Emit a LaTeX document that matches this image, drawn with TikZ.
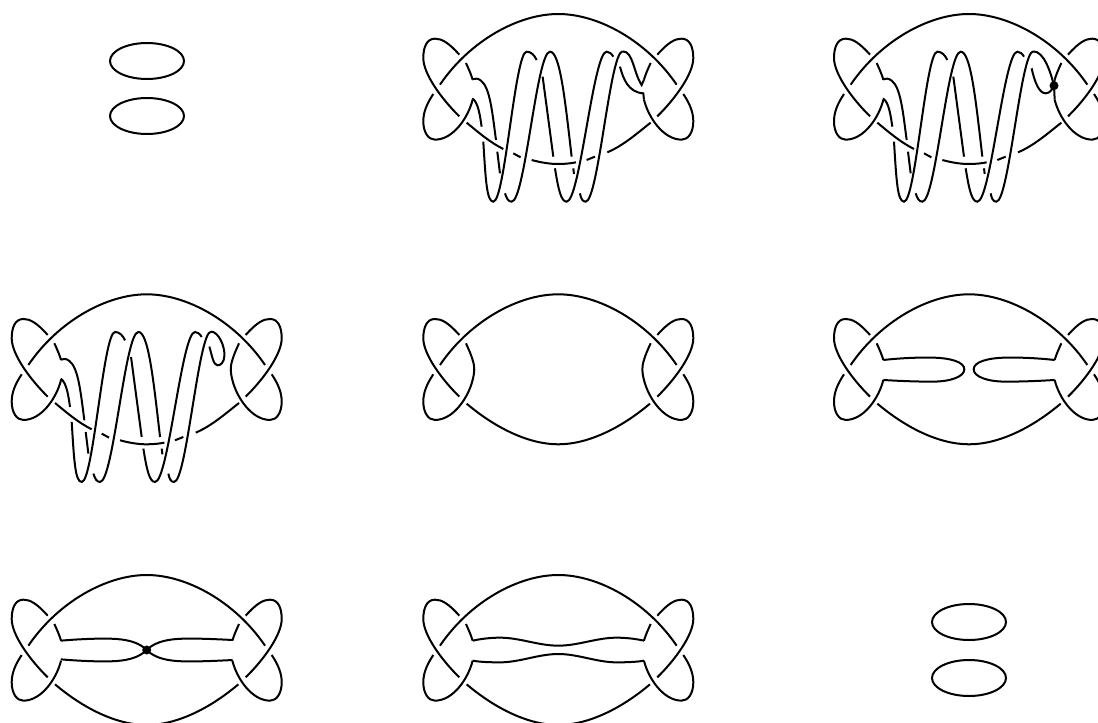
\documentclass[tikz,border=0pt]{standalone}
\usepackage{tikz}

\tikzset{
    every pic/.style={transform shape},
    strand/.style={line width=2pt, black},
    crossdot/.style={circle, fill=black, inner sep=0pt, minimum size=9pt},
    u/.style={x=0.33333pt, y=-0.33333pt},
    % half of the frame, left side
    halfframe/.pic={
      \draw[strand] (-297,-103) .. controls (-330,-140) and (-350,-151) .. (-370,-151)
        .. controls (-395,-151) and (-405,-125) .. (-405,-93)
        .. controls (-405,-45) and (-350,30) .. (-297,82);
      \draw[strand] (-375,15) .. controls (-395,45) and (-405,70) .. (-405,97)
        .. controls (-405,130) and (-390,152) .. (-370,152)
        .. controls (-315,152) and (-270,85) .. (-257,32);
      \draw[strand] (-277,-78) .. controls (-268,-58) and (-262,-45) .. (-257,-28);
    },
    % both sides and the arc above
    lobes/.pic={
      \pic {halfframe};
      \pic[xscale=-1] {halfframe};
      \draw[strand] (-355,-13) .. controls (-265,-145) and (-120,-225) .. (0,-225)
        .. controls (120,-225) and (265,-145) .. (355,-13);
    },
    fullarc/.pic={
      \draw[strand] (-275,103) .. controls (-190,175) and (-90,225) .. (0,225)
        .. controls (90,225) and (190,175) .. (275,103);
    },
    brokenarc/.pic={
      \draw[strand] (-275,101) .. controls (-240,130) and (-205,160) .. (-165,180);
      \draw[strand] (-135,193) -- (-113,205);
      \draw[strand] (-80,213) .. controls (-50,221) and (-25,225) .. (0,225)
        .. controls (20,225) and (38,223) .. (53,220);
      \draw[strand] (85,213) -- (110,203);
      \draw[strand] (147,190) .. controls (195,170) and (240,130) .. (277,101);
    },
    % the part that winds through the arc
    winding/.pic={
      \draw[strand] (-258,28) .. controls (-240,40) and (-235,80) .. (-230,113);
      \draw[strand] (-225,158) .. controls (-218,270) and (-215,338) .. (-195,338)
        .. controls (-160,338) and (-130,-112) .. (-95,-112)
        .. controls (-82,-112) and (-72,-102) .. (-65,-87);
      \draw[strand] (-258,-29) .. controls (-250,-33) and (-240,-32) .. (-232,-25)
        .. controls (-205,-5) and (-198,70) .. (-187,153);
      \draw[strand] (-183,188) -- (-175,253);
      \draw[strand] (-160,313) .. controls (-155,328) and (-150,338) .. (-140,338)
        .. controls (-100,338) and (-65,-112) .. (-25,-112)
        .. controls (5,-112) and (20,30) .. (40,203);
      \draw[strand] (45,238) -- (47,255);
      \draw[strand] (65,313) .. controls (68,328) and (72,338) .. (82,338)
        .. controls (120,338) and (155,-113) .. (193,-113);
      \draw[strand] (-47,-37) -- (-15,203);
      \draw[strand] (-10,238) .. controls (0,300) and (8,338) .. (25,338)
        .. controls (65,338) and (105,-112) .. (145,-112)
        .. controls (152,-112) and (160,-106) .. (165,-97);
    },
    roundside/.pic={
      \draw[strand] (-257,32) .. controls (-251,8) and (-250,-6) .. (-257,-28);
    },
    twist/.pic={
      \draw[strand] (-258,-28) .. controls (-200,-33) and (-130,-36) .. (-90,-33)
        .. controls (-50,-30) and (-20,-20) .. (0,0)
        .. controls (20,20) and (50,30) .. (90,33)
        .. controls (130,36) and (200,33) .. (258,30);
    },
    hairpin/.pic={
      \draw[strand] (-257,-28) .. controls (-210,-33) and (-160,-36) .. (-110,-35)
        .. controls (-55,-34) and (-14,-22) .. (-14,0)
        .. controls (-14,22) and (-55,37) .. (-110,37)
        .. controls (-160,37) and (-210,35) .. (-257,32);
    },
    wave/.pic={
      \draw[strand] (-257,-28) .. controls (-235,-33) and (-205,-37) .. (-175,-37)
        .. controls (-115,-37) and (-60,-13) .. (0,-13)
        .. controls (60,-13) and (115,-37) .. (175,-37)
        .. controls (205,-37) and (235,-33) .. (257,-28);
      \draw[strand] (-257,32) .. controls (-235,36) and (-205,37) .. (-175,37)
        .. controls (-115,37) and (-60,12) .. (0,12)
        .. controls (60,12) and (115,37) .. (175,37)
        .. controls (205,37) and (235,36) .. (257,32);
    },
}

\begin{document}
\begin{tikzpicture}[x=1pt, y=-1pt]
  \useasboundingbox (0,0) rectangle (1098,723);
  \clip (0,0) rectangle (1098,723);

  \coordinate (p12) at (558.3,89);
  \coordinate (p13) at (969,89);
  \coordinate (p21) at (146.7,369.3);
  \coordinate (p22) at (558.3,369.3);
  \coordinate (p23) at (969,369.3);
  \coordinate (p31) at (146.7,650);
  \coordinate (p32) at (558.3,650);

  % two circles
  \draw[strand] (147,61) ellipse [x radius=37, y radius=18];
  \draw[strand] (147,116) ellipse [x radius=37, y radius=18];
  \draw[strand] (969,622) ellipse [x radius=37, y radius=18];
  \draw[strand] (969,678) ellipse [x radius=37, y radius=18];

  % first row
  \begin{scope}[shift={(p12)}, u]
    \pic {lobes}; \pic {brokenarc}; \pic {winding};
    \draw[strand] (193,-113) .. controls (225,-113) and (225,-50) .. (250,-12)
      -- (257,-28);
    \draw[strand] (185,-67) .. controls (195,-30) and (210,10) .. (255,13) -- (257,32);
  \end{scope}
  \begin{scope}[shift={(p13)}, u]
    \pic {lobes}; \pic {brokenarc}; \pic {winding};
    \draw[strand] (193,-113) .. controls (225,-113) and (245,-50) .. (255,-10)
      -- (257,32);
    \draw[strand] (188,-62) .. controls (198,-15) and (212,13) .. (230,13)
      .. controls (243,13) and (250,0) .. (255,-10) -- (257,-28);
    \node[crossdot] (d13) at (255,-10) {};
  \end{scope}

  % second row
  \begin{scope}[shift={(p21)}, u]
    \pic {lobes}; \pic {brokenarc}; \pic {winding};
    \pic[xscale=-1] {roundside};
    \draw[strand] (193,-113) .. controls (215,-113) and (235,-70) .. (233,-40)
      .. controls (232,-20) and (222,-12) .. (212,-12)
      .. controls (200,-12) and (195,-45) .. (188,-68);
  \end{scope}
  \begin{scope}[shift={(p22)}, u]
    \pic {lobes}; \pic {fullarc}; \pic {roundside};
    \pic[xscale=-1] {roundside};
  \end{scope}
  \begin{scope}[shift={(p23)}, u]
    \pic {lobes}; \pic {fullarc}; \pic {hairpin};
    \pic[xscale=-1] {hairpin};
  \end{scope}

  % third row
  \begin{scope}[shift={(p31)}, u]
    \pic {lobes}; \pic {fullarc}; \pic {twist};
    \pic[yscale=-1] {twist};
    \node[crossdot] (d31) at (0,0) {};
  \end{scope}
  \begin{scope}[shift={(p32)}, u]
    \pic {lobes}; \pic {fullarc}; \pic {wave};
  \end{scope}
\end{tikzpicture}
\end{document}
